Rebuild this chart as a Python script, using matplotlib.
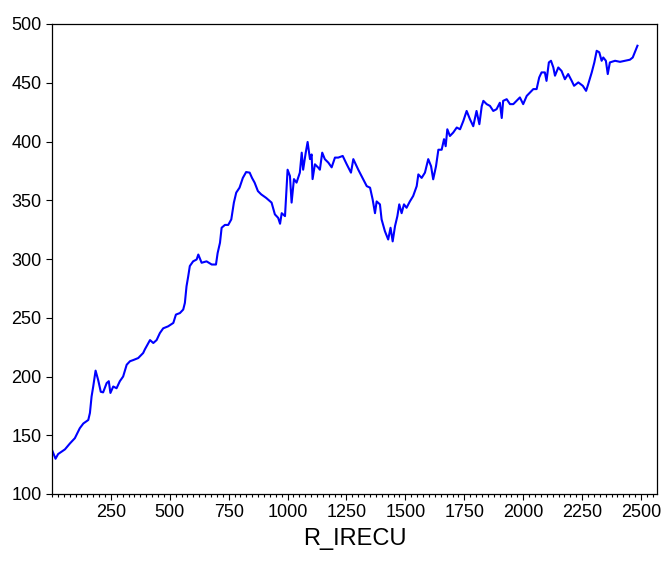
import matplotlib
matplotlib.use("Agg")
import matplotlib.pyplot as plt
from matplotlib.ticker import MultipleLocator

obs = [1, 15, 26, 55, 76, 97, 118, 133, 154, 161, 168, 175, 185, 196, 207, 217,
       232, 241, 248, 260, 274, 288, 302, 317, 331, 345, 366, 387, 394, 416, 430,
       444, 458, 472, 493, 515, 526, 543, 557, 564, 571, 578, 585, 599, 614, 621,
       635, 656, 678, 696, 703, 713, 720, 734, 748, 761, 772, 782, 796, 810, 824,
       839, 849, 860, 874, 888, 909, 932, 946, 960, 968, 975, 989, 1000, 1010,
       1017, 1027, 1038, 1052, 1060, 1066, 1077, 1085, 1095, 1102, 1106, 1116,
       1130, 1137, 1147, 1158, 1173, 1187, 1201, 1215, 1234, 1251, 1269, 1279,
       1300, 1321, 1336, 1350, 1361, 1371, 1378, 1392, 1399, 1413, 1427, 1437,
       1446, 1456, 1466, 1474, 1484, 1494, 1505, 1519, 1533, 1548, 1555, 1569,
       1583, 1597, 1609, 1618, 1630, 1640, 1654, 1664, 1671, 1678, 1689, 1703,
       1718, 1732, 1746, 1760, 1774, 1788, 1802, 1814, 1824, 1831, 1845, 1859,
       1873, 1887, 1901, 1909, 1915, 1930, 1944, 1958, 1972, 1986, 2000, 2015,
       2029, 2043, 2057, 2068, 2078, 2092, 2099, 2109, 2118, 2128, 2135, 2149,
       2163, 2177, 2191, 2206, 2216, 2234, 2253, 2267, 2276, 2291, 2302, 2312,
       2323, 2333, 2340, 2351, 2359, 2368, 2390, 2411, 2432, 2453, 2465, 2474,
       2485]
r_irecu = [137, 130, 134, 138, 143, 147.5, 156, 160, 163, 169, 183, 191.5, 205,
           197, 187, 186.5, 194.4, 196, 186, 191.5, 190, 196, 200, 210, 213, 214,
           215.7, 220, 223, 231, 228.5, 231, 237, 241, 242.7, 245.6, 252.7, 254,
           257, 262.6, 276.8, 285, 294, 298, 299.6, 303.8, 296.8, 298, 295.3,
           295.3, 305, 313.8, 326.6, 329, 329, 333.7, 348, 356.5, 360.7, 369, 374,
           373.5, 369, 365, 357.8, 355, 352, 348, 338, 335, 330, 339, 336.5, 376,
           370.6, 348, 368, 365, 373.5, 390.5, 376, 390.5, 399.6, 385, 389, 368,
           380.6, 377.8, 376, 390.5, 385, 382, 378, 386.3, 386.3, 387.7, 380.6,
           373.5, 385, 376, 367.8, 362, 360.7, 350.7, 339, 349, 346.5, 333.7,
           323.7, 316.6, 326.6, 315, 328, 336.5, 346.5, 339, 346.5, 343.6, 349,
           353.6, 362, 372, 369, 373.5, 385, 379, 367.8, 379, 393, 393, 402, 396,
           410.4, 404.7, 407.6, 411.9, 410.4, 417.5, 426, 419, 413, 426, 414.7,
           430, 434.6, 431.8, 430.3, 426, 427.5, 433, 420, 434.6, 436, 431.8,
           431.8, 434.6, 437.5, 431.8, 438.8, 441.7, 444.6, 444.6, 454.5, 458.8,
           458.8, 451.6, 467.3, 468.7, 463, 456, 463, 460, 453, 457.4, 451.6,
           447.4, 450.3, 447.4, 443.1, 448.8, 458.8, 467.3, 477.2, 475.9, 468.7,
           471.5, 468.7, 457.4, 467.3, 468.7, 467.8, 468.7, 469.6, 471.5, 475.9,
           481.5]

x_ticks = [250, 500, 750, 1000, 1250, 1500, 1750, 2000, 2250, 2500]
y_ticks = [100, 150, 200, 250, 300, 350, 400, 450, 500]
x_label = "R_IRECU"

plt.rcParams['font.family'] = ['Liberation Sans Narrow', 'Liberation Sans', 'DejaVu Sans']

fig = plt.figure(figsize=(6.63, 5.65), dpi=100)
ax = fig.add_axes([52 / 663, 71 / 565, 605 / 663, 470 / 565])
ax.plot(obs, r_irecu, color=(0, 0, 1), linewidth=1.5)

ax.set_xlim(0, 2568)
ax.set_ylim(100, 500)
ax.set_xticks(x_ticks)
ax.set_yticks(y_ticks)
ax.xaxis.set_minor_locator(MultipleLocator(25))
ax.tick_params(axis='both', which='major', direction='out', length=4.5,
               width=0.8, labelsize=13, colors='black', pad=3)
ax.tick_params(axis='x', which='minor', direction='out', length=2.5, width=0.8)
ax.tick_params(axis='y', which='minor', left=False)
for s in ax.spines.values():
    s.set_linewidth(0.9)
    s.set_color('black')
ax.set_xlabel(x_label, fontsize=17, labelpad=5)

fig.savefig("out.png", dpi=100)
